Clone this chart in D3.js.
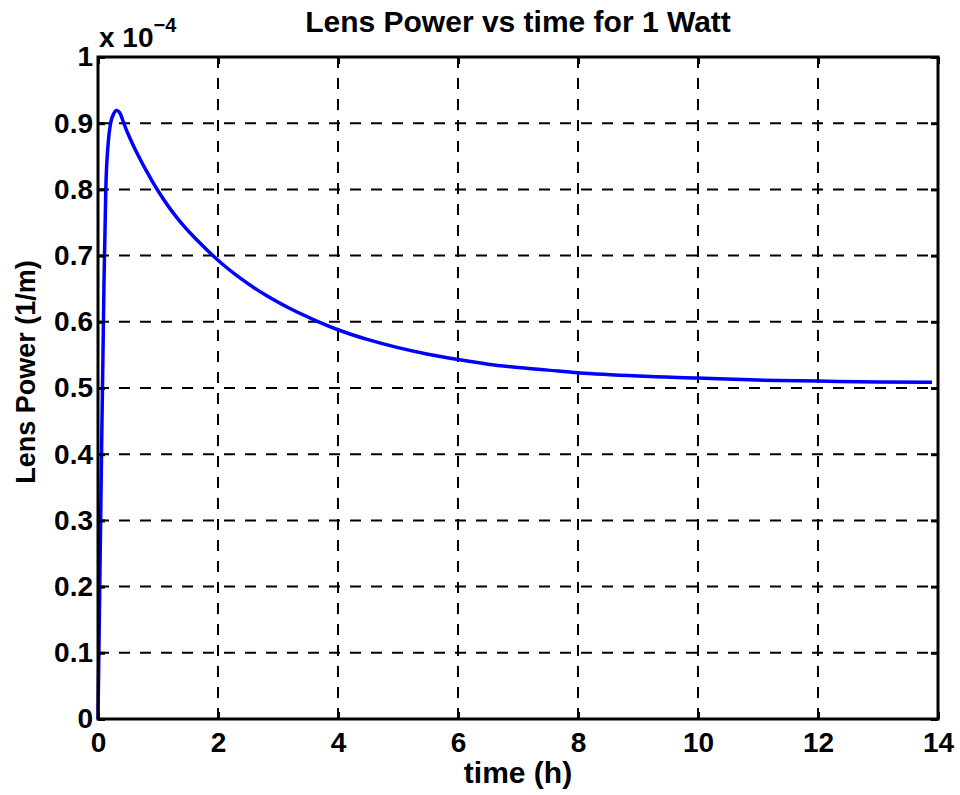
<!DOCTYPE html>
<html>
<head>
<meta charset="utf-8">
<script src="https://cdn.jsdelivr.net/npm/d3@7"></script>
<style>
  body { margin: 0; background: #fff; }
  text { font-family: "Liberation Sans", Arial, Helvetica, sans-serif; font-weight: bold; fill: #000; }
</style>
</head>
<body>
<div id="chart"></div>
<script>
// data (time in hours, lens power in units of 1e-4 1/m)
var timeH = [0, 0.05, 0.1, 0.13, 0.17, 0.21, 0.26, 0.31, 0.36, 0.43, 0.5, 0.6, 0.7, 0.8, 0.9,
  1.0, 1.2, 1.4, 1.6, 1.8, 2.0, 2.4, 2.8, 3.2, 3.6, 4.0, 4.5, 5.0, 5.5, 6.0, 6.5, 7.0,
  7.5, 8.0, 9.0, 10.0, 11.0, 12.0, 13.0, 13.9];
var lensPower = [0, 0.34, 0.66, 0.8, 0.87, 0.9, 0.914, 0.919, 0.916, 0.9, 0.884, 0.864, 0.846, 0.829, 0.813,
  0.798, 0.771, 0.748, 0.728, 0.71, 0.693, 0.664, 0.64, 0.62, 0.603, 0.588, 0.573, 0.561, 0.551, 0.543, 0.536, 0.531,
  0.527, 0.523, 0.518, 0.515, 0.512, 0.5105, 0.509, 0.5085];
var xTicks = [0, 2, 4, 6, 8, 10, 12, 14];
var yTicks = [0, 0.1, 0.2, 0.3, 0.4, 0.5, 0.6, 0.7, 0.8, 0.9, 1];
var yTickLabels = ["0", "0.1", "0.2", "0.3", "0.4", "0.5", "0.6", "0.7", "0.8", "0.9", "1"];

// set the dimensions and margins of the graph
var margin = { top: 57, right: 22, bottom: 76, left: 98 },
  width = 960 - margin.left - margin.right,
  height = 795 - margin.top - margin.bottom;

var svg = d3
  .select("#chart")
  .append("svg")
  .attr("width", 960)
  .attr("height", 795)
  .append("g")
  .attr("transform", "translate(" + margin.left + "," + margin.top + ")");

var x = d3.scaleLinear().domain([0, 14]).range([0, width]);
var y = d3.scaleLinear().domain([0, 1]).range([height, 0]);

// dashed grid
svg
  .append("g")
  .selectAll("line")
  .data(xTicks.slice(1, -1))
  .enter()
  .append("line")
  .attr("x1", (d) => x(d))
  .attr("x2", (d) => x(d))
  .attr("y1", 0)
  .attr("y2", height)
  .attr("stroke", "#000")
  .attr("stroke-width", 2)
  .attr("stroke-dasharray", "11,10");
svg
  .append("g")
  .selectAll("line")
  .data(yTicks.slice(1, -1))
  .enter()
  .append("line")
  .attr("x1", 0)
  .attr("x2", width)
  .attr("y1", (d) => y(d))
  .attr("y2", (d) => y(d))
  .attr("stroke", "#000")
  .attr("stroke-width", 2)
  .attr("stroke-dasharray", "11,10");

// the curve
var line = d3
  .line()
  .x((d, i) => x(timeH[i]))
  .y((d) => y(d))
  .curve(d3.curveMonotoneX);
svg
  .append("path")
  .datum(lensPower)
  .attr("fill", "none")
  .attr("stroke", "#0000ff")
  .attr("stroke-width", 3.5)
  .attr("stroke-linejoin", "round")
  .attr("d", line);

// axes, ticks inward
var xAxis = svg
  .append("g")
  .attr("transform", "translate(0," + height + ")")
  .call(d3.axisBottom(x).tickValues(xTicks).tickSize(-7).tickPadding(13).tickFormat(d3.format("d")));
var xTop = svg.append("g").call(d3.axisTop(x).tickValues(xTicks).tickSize(-7).tickFormat(""));
var yAxis = svg
  .append("g")
  .call(
    d3.axisLeft(y).tickValues(yTicks).tickSize(-7).tickPadding(5)
      .tickFormat((d, i) => yTickLabels[i])
  );
var yRight = svg
  .append("g")
  .attr("transform", "translate(" + width + ",0)")
  .call(d3.axisRight(y).tickValues(yTicks).tickSize(-7).tickFormat(""));

[xAxis, xTop, yAxis, yRight].forEach(function (g) {
  g.select(".domain").remove();
  g.selectAll(".tick line").attr("stroke", "#000").attr("stroke-width", 3);
  g.selectAll("text").style("font-size", "28px").attr("fill", "#000");
});
xAxis.selectAll("text").attr("dy", "0.71em");

// box
svg
  .append("rect")
  .attr("x", 0)
  .attr("y", 0)
  .attr("width", width)
  .attr("height", height)
  .attr("fill", "none")
  .attr("stroke", "#000")
  .attr("stroke-width", 3);

// exponent
var expo = svg.append("text").attr("x", 1).attr("y", -10).style("font-size", "28px");
expo.append("tspan").text("x 10");
expo.append("tspan").attr("dy", -15).style("font-size", "20px").text("\u22124");

// title and labels
svg
  .append("text")
  .attr("x", width / 2)
  .attr("y", -25)
  .attr("text-anchor", "middle")
  .style("font-size", "30px")
  .text("Lens Power vs time for 1 Watt");
svg
  .append("text")
  .attr("x", width / 2)
  .attr("y", height + 64)
  .attr("text-anchor", "middle")
  .style("font-size", "30px")
  .text("time (h)");
svg
  .append("text")
  .attr("transform", "translate(" + (35 - margin.left) + "," + (372 - margin.top) + ") rotate(-90)")
  .attr("text-anchor", "middle")
  .style("font-size", "27px")
  .text("Lens Power (1/m)");
</script>
</body>
</html>
